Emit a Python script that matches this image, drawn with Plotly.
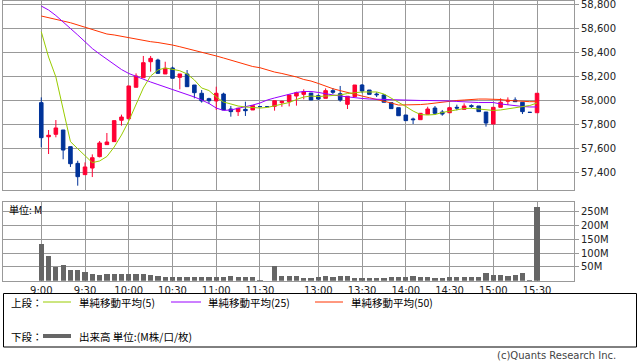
import plotly.graph_objects as go

# ---------------- data ----------------
slots = list(range(69))
tick_slots = [0, 6, 12, 18, 24, 30, 38, 44, 50, 56, 62, 68]
tick_labels = ["9:00", "9:30", "10:00", "10:30", "11:00", "11:30",
               "13:00", "13:30", "14:00", "14:30", "15:00", "15:30"]

opens = [57978, 57694, 57714, 57750, 57611, 57472, 57378, 57433, 57528, 57628,
         57653, 57831, 57844, 58106, 58186, 58319, 58333, 58217, 58267, 58189,
         58217, 58125, 58056, 58011, 57992, 58050, 57925, 57903, 57922, 57917,
         57945, 57945, 57947, 57978, 57986, 58033, 58047, 58058, 58036, 58014,
         58078, 58053, 57964, 58028, 58125, 58083, 58050, 58042, 57978, 57936,
         57875, 57842, 57836, 57881, 57933, 57900, 57894, 57939, 57922, 57953,
         57950, 57900, 57800, 57939, 57989, 58000, 57981, 57897, 57894]
highs = [58022, 57750, 57833, 57750, 57611, 57494, 57480, 57547, 57658, 57725,
         57828, 57878, 58117, 58222, 58367, 58367, 58344, 58319, 58278, 58217,
         58250, 58125, 58083, 58019, 58111, 58061, 57950, 57936, 57986, 57953,
         57945, 57945, 57994, 57994, 58042, 58069, 58089, 58058, 58047, 58097,
         58100, 58117, 58031, 58125, 58133, 58083, 58064, 58050, 57978, 57936,
         57875, 57853, 57889, 57944, 57950, 57917, 57944, 57961, 57972, 57964,
         57950, 57900, 57939, 58014, 58022, 58022, 57981, 57897, 58056]
lows = [57606, 57550, 57689, 57506, 57442, 57286, 57378, 57358, 57522, 57628,
        57653, 57786, 57844, 58106, 58186, 58236, 58217, 58217, 58181, 58089,
        58111, 58014, 57978, 57967, 57917, 57917, 57861, 57867, 57867, 57917,
        57945, 57945, 57911, 57944, 57947, 57953, 58006, 58000, 58000, 58014,
        58050, 57986, 57925, 58028, 58056, 58047, 58025, 57981, 57928, 57869,
        57828, 57800, 57836, 57881, 57875, 57869, 57894, 57914, 57922, 57933,
        57903, 57778, 57800, 57939, 57958, 57986, 57883, 57897, 57894]
closes = [57686, 57706, 57767, 57583, 57469, 57361, 57442, 57519, 57642, 57650,
          57828, 57858, 58117, 58200, 58311, 58347, 58222, 58264, 58181, 58217,
          58111, 58061, 57992, 57994, 58056, 57917, 57903, 57931, 57911, 57953,
          57945, 57945, 57994, 57989, 58042, 58061, 58069, 58000, 58008, 58078,
          58064, 58000, 58031, 58125, 58075, 58047, 58044, 57981, 57928, 57869,
          57828, 57836, 57889, 57925, 57889, 57883, 57936, 57933, 57950, 57947,
          57903, 57808, 57939, 57981, 57997, 57986, 57903, 57897, 58056]

ma5 = [58569, 58358, 58192, 57933, 57653, 57594, 57533, 57478, 57492, 57529,
       57608, 57708, 57825, 57958, 58100, 58200, 58250, 58267, 58258, 58244,
       58217, 58167, 58100, 58079, 58025, 57983, 57967, 57950, 57942, 57938,
       57933, 57938, 57950, 57962, 57979, 58004, 58025, 58033, 58029, 58033,
       58038, 58042, 58054, 58063, 58067, 58067, 58067, 58050, 58017, 57983,
       57946, 57908, 57879, 57875, 57879, 57896, 57908, 57917, 57929, 57931,
       57925, 57913, 57913, 57917, 57925, 57933, 57942, 57954, 57975]
ma25 = [58783, 58750, 58704, 58654, 58596, 58542, 58483, 58429, 58383, 58338,
        58296, 58254, 58221, 58196, 58171, 58150, 58129, 58108, 58092, 58069,
        58050, 58025, 58000, 57971, 57933, 57913, 57917, 57929, 57942, 57958,
        57975, 58000, 58017, 58033, 58050, 58063, 58071, 58071, 58063, 58050,
        58042, 58033, 58025, 58017, 58013, 58008, 58006, 58004, 58000, 57996,
        57996, 57996, 57996, 57996, 57996, 57996, 57992, 57988, 57983, 57979,
        57979, 57979, 57979, 57967, 57958, 57954, 57946, 57942, 57942]
ma50 = [58700, 58688, 58673, 58658, 58644, 58625, 58603, 58583, 58563, 58550,
        58542, 58531, 58517, 58504, 58496, 58486, 58479, 58471, 58458, 58444,
        58429, 58413, 58400, 58388, 58367, 58350, 58333, 58313, 58296, 58279,
        58269, 58250, 58233, 58221, 58208, 58192, 58171, 58158, 58138, 58113,
        58094, 58078, 58061, 58046, 58033, 58019, 58006, 57992, 57975, 57958,
        57958, 57958, 57962, 57967, 57975, 57983, 57992, 57996, 58000, 58006,
        58008, 58008, 58008, 58004, 57997, 57992, 57986, 57986, 57986]

volume_m = [133, 89, 48, 57, 39, 39, 31, 24, 21, 24,
            24, 24, 24, 24, 24, 21, 17, 12, 12, 12,
            12, 12, 12, 12, 12, 12, 17, 12, 12, 12,
            2, 0, 53, 17, 16, 16, 10, 10, 12, 16,
            12, 16, 16, 10, 10, 10, 10, 10, 12, 12,
            12, 16, 12, 12, 10, 10, 12, 12, 12, 12,
            12, 28, 20, 19, 17, 19, 28, 2, 267]

price_ticks = list(range(57400, 58801, 200))
vol_ticks = [50, 100, 150, 200, 250]

# ---------------- styling ----------------
W, H = 638, 362
RED = "#ff0033"
BLUE = "#003399"
GRID = "#999999"
NUM_FONT = dict(family="DejaVu Sans", size=10, color="#222222")
JP_FONT = "Noto Sans CJK JP"

def px_x(p):
    return p / W

def px_y(p):
    return 1 - p / H

fig = go.Figure()

fig.add_trace(go.Candlestick(
    x=slots, open=opens, high=highs, low=lows, close=closes,
    increasing=dict(line=dict(color=RED, width=1), fillcolor=RED),
    decreasing=dict(line=dict(color=BLUE, width=1), fillcolor=BLUE),
    whiskerwidth=0, xaxis="x", yaxis="y", showlegend=False, hoverinfo="skip"))

fig.add_trace(go.Scatter(x=slots, y=ma50, mode="lines",
                         line=dict(color="#ff3300", width=1),
                         xaxis="x", yaxis="y", showlegend=False, hoverinfo="skip"))
fig.add_trace(go.Scatter(x=slots, y=ma25, mode="lines",
                         line=dict(color="#9900ff", width=1),
                         xaxis="x", yaxis="y", showlegend=False, hoverinfo="skip"))
fig.add_trace(go.Scatter(x=slots, y=ma5, mode="lines",
                         line=dict(color="#99cc00", width=1),
                         xaxis="x", yaxis="y", showlegend=False, hoverinfo="skip"))

fig.add_trace(go.Bar(x=slots, y=volume_m, marker=dict(color="#666666", line=dict(width=0)),
                     width=0.72, xaxis="x2", yaxis="y2", showlegend=False, hoverinfo="skip"))

xdom = [px_x(3), px_x(574)]
xrange_ = [-5.25, 73.07]

common_x = dict(domain=xdom, range=xrange_, tickmode="array", tickvals=tick_slots,
                showgrid=True, gridcolor=GRID, gridwidth=1, showline=True, mirror=True,
                linecolor=GRID, linewidth=1, zeroline=False, automargin=False, fixedrange=True)

fig.update_layout(
    width=W, height=H,
    margin=dict(l=0, r=0, t=0, b=0),
    paper_bgcolor="white", plot_bgcolor="white",
    bargap=0,
    xaxis=dict(**common_x, anchor="y", showticklabels=False, ticks="",
               rangeslider=dict(visible=False)),
    yaxis=dict(domain=[px_y(190), px_y(1)], range=[57250, 58825], side="right",
               tickmode="array", tickvals=price_ticks,
               ticktext=[f"{v:,}" for v in price_ticks],
               ticks="outside", ticklen=4, tickcolor=GRID,
               showgrid=True, gridcolor=GRID, showline=True, mirror=True,
               linecolor=GRID, zeroline=False, anchor="x", tickfont=NUM_FONT,
               ticklabeloverflow="allow", automargin=False, fixedrange=True),
    xaxis2=dict(**common_x, anchor="y2", ticktext=tick_labels, ticks="",
                tickfont=NUM_FONT, ticklabeloverflow="allow"),
    yaxis2=dict(domain=[px_y(280.7), px_y(201.7)], range=[0, 286], side="right",
                tickmode="array", tickvals=vol_ticks,
                ticktext=[f"{v}M" for v in vol_ticks],
                ticks="outside", ticklen=4, tickcolor=GRID,
                showgrid=True, gridcolor=GRID, showline=True, mirror=True,
                linecolor=GRID, zeroline=False, anchor="x2", tickfont=NUM_FONT,
                ticklabeloverflow="allow", automargin=False, fixedrange=True),
)

shapes = []
annotations = []

# unit label in volume panel
annotations.append(dict(xref="paper", yref="paper", x=px_x(7), y=px_y(209),
                        xanchor="left", yanchor="middle", showarrow=False,
                        text="単位: M", font=dict(family=JP_FONT, size=10, color="#000")))

# legend box
shapes.append(dict(type="rect", xref="paper", yref="paper",
                   x0=px_x(3.5), x1=px_x(636.5), y0=px_y(347), y1=px_y(293.5),
                   line=dict(color="#000", width=1), fillcolor="rgba(0,0,0,0)"))

row1, row2 = 302, 336
legend_font = dict(family=JP_FONT, size=10.5, color="#000")
annotations.append(dict(xref="paper", yref="paper", x=px_x(9), y=px_y(row1),
                        xanchor="left", yanchor="middle", showarrow=False,
                        text="上段：", font=legend_font))
annotations.append(dict(xref="paper", yref="paper", x=px_x(9), y=px_y(row2),
                        xanchor="left", yanchor="middle", showarrow=False,
                        text="下段：", font=legend_font))

legend_items = [(43, 71, 77, "#99cc00", "単純移動平均(5)"),
                (171, 201, 206, "#9900ff", "単純移動平均(25)"),
                (315, 343, 349, "#ff3300", "単純移動平均(50)")]
for x0, x1, tx, col, label in legend_items:
    shapes.append(dict(type="line", xref="paper", yref="paper",
                       x0=px_x(x0), x1=px_x(x1), y0=px_y(row1), y1=px_y(row1),
                       line=dict(color=col, width=1)))
    annotations.append(dict(xref="paper", yref="paper", x=px_x(tx), y=px_y(row1),
                            xanchor="left", yanchor="middle", showarrow=False,
                            text=label, font=legend_font))

shapes.append(dict(type="line", xref="paper", yref="paper",
                   x0=px_x(43), x1=px_x(71), y0=px_y(row2), y1=px_y(row2),
                   line=dict(color="#666666", width=4)))
annotations.append(dict(xref="paper", yref="paper", x=px_x(77), y=px_y(row2),
                        xanchor="left", yanchor="middle", showarrow=False,
                        text="出来高 単位:(M株/口/枚)", font=legend_font))

annotations.append(dict(xref="paper", yref="paper", x=px_x(618), y=px_y(355),
                        xanchor="right", yanchor="middle", showarrow=False,
                        text="(c)Quants Research Inc.",
                        font=dict(family="DejaVu Sans", size=10, color="#444")))

fig.update_layout(shapes=shapes, annotations=annotations)

fig.write_html("out.html",
               config={"displayModeBar": False, "staticPlot": True},
               post_script="document.body.style.margin='0';document.body.style.padding='0';"
                           "document.body.style.overflow='hidden';")
